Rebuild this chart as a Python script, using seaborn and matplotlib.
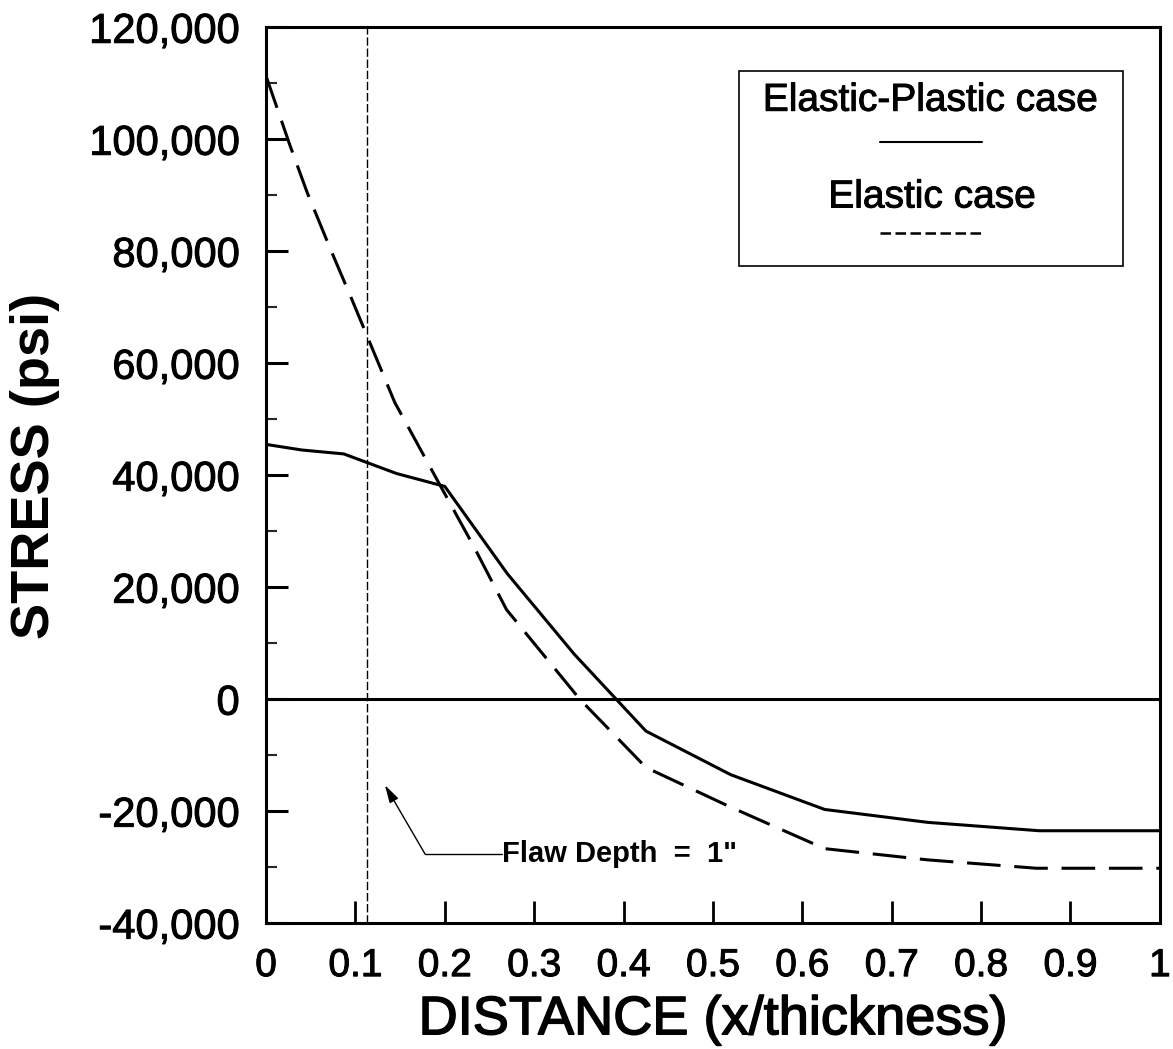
import numpy as np
import pandas as pd
import matplotlib
matplotlib.use("Agg")
import matplotlib.pyplot as plt
import matplotlib.patheffects as pe
from matplotlib.ticker import MultipleLocator, FuncFormatter, FixedLocator
from matplotlib.lines import Line2D
from matplotlib.patches import Rectangle
import seaborn as sns

# Through-wall stress distributions (x/thickness vs. stress in psi)
plastic_x = [0.0, 0.04, 0.087, 0.146, 0.2, 0.27, 0.345, 0.425, 0.52, 0.625, 0.74, 0.865, 1.0]
plastic_y = [45500, 44500, 43800, 40300, 38000, 22400, 8000, -5700, -13500, -19700, -22000, -23500, -23500]

elastic_x = [0.0, 0.027, 0.046, 0.072, 0.096, 0.144, 0.193, 0.232, 0.269, 0.351, 0.425, 0.52, 0.625, 0.74, 0.862, 1.0]
elastic_y = [111300, 98800, 90500, 80400, 71400, 53000, 38700, 27400, 16000, 0, -12200, -19300, -26700, -28700, -30200, -30200]

series_names = ["Elastic-Plastic case", "Elastic case"]
flaw_depth = 0.113
flaw_label = 'Flaw Depth  =  1"'

x_ticks = [0, 0.1, 0.2, 0.3, 0.4, 0.5, 0.6, 0.7, 0.8, 0.9, 1.0]
x_tick_labels = ["0", "0.1", "0.2", "0.3", "0.4", "0.5", "0.6", "0.7", "0.8", "0.9", "1"]

df = pd.concat([
    pd.DataFrame({"x": plastic_x, "stress": plastic_y, "case": series_names[0]}),
    pd.DataFrame({"x": elastic_x, "stress": elastic_y, "case": series_names[1]}),
], ignore_index=True)

sns.set_theme(style="white")
plt.rcParams["font.family"] = ["Liberation Sans", "DejaVu Sans"]

# slightly heavier glyph outlines for the regular-weight text
heavy = [pe.withStroke(linewidth=0.7, foreground="black")]

fig = plt.figure(figsize=(11.73, 10.49), dpi=100)
ax = fig.add_axes([0.2268, 0.120, 0.762, 0.854])

sns.lineplot(
    data=df, x="x", y="stress", hue="case", style="case",
    palette={series_names[0]: "black", series_names[1]: "black"},
    dashes={series_names[0]: "", series_names[1]: (11, 4.5)},
    linewidth=2.2, legend=False, sort=False, estimator=None, ax=ax,
)

# zero-stress reference and flaw depth marker
ax.axhline(0, color="black", lw=2.2, zorder=1)
ax.axvline(flaw_depth, color="black", lw=1.0, dashes=(6, 2), zorder=1)

ax.set_xlim(0, 1)
ax.set_ylim(-40000, 120000)

for s in ax.spines.values():
    s.set_visible(True)
    s.set_color("black")
    s.set_linewidth(2.2)

ax.yaxis.set_major_locator(MultipleLocator(20000))
ax.yaxis.set_minor_locator(MultipleLocator(10000))
ax.yaxis.set_major_formatter(FuncFormatter(lambda v, p: f"{int(round(v)):,}"))
ax.xaxis.set_major_locator(FixedLocator(x_ticks))
ax.set_xticklabels(x_tick_labels)

ax.tick_params(axis="y", which="major", direction="in", length=16, width=2.2,
               pad=19, labelsize=30, colors="black", left=True)
ax.tick_params(axis="y", which="minor", direction="in", length=8, width=1.5, left=True)
ax.tick_params(axis="x", which="major", direction="in", length=16, width=2.0,
               pad=18, labelsize=28, colors="black", bottom=True)
for lbl in ax.get_xticklabels() + ax.get_yticklabels():
    lbl.set_path_effects(heavy)

ax.set_xlabel("DISTANCE (x/thickness)", fontsize=39, color="black", labelpad=8,
              path_effects=[pe.withStroke(linewidth=1.1, foreground="black")])
ax.set_ylabel("")
fig.text(35 / 1173, 1 - 466 / 1049, "STRESS (psi)", rotation=90, fontsize=39,
         fontweight="bold", ha="center", va="center", color="black")

# legend box with captions over line samples
ax.add_patch(Rectangle((0.529, 0.734), 0.430, 0.217, transform=ax.transAxes,
                       fill=False, edgecolor="black", lw=1.2, zorder=5))
ax.text(0.743, 0.918, series_names[0], transform=ax.transAxes, fontsize=28,
        ha="center", va="center", color="black", zorder=6, path_effects=heavy)
ax.add_line(Line2D([0.687, 0.801], [0.872, 0.872], transform=ax.transAxes,
                   color="black", lw=1.5, zorder=6))
ax.text(0.745, 0.810, series_names[1], transform=ax.transAxes, fontsize=28,
        ha="center", va="center", color="black", zorder=6, path_effects=heavy)
ax.add_line(Line2D([0.687, 0.801], [0.770, 0.770], transform=ax.transAxes,
                   color="black", lw=1.8, dashes=(4.2, 1.8), zorder=6))

# flaw depth annotation
ax.plot([0.178, 0.264], [-27680, -27680], color="black", lw=1.0)
ax.annotate("", xy=(0.133, -15360), xytext=(0.178, -27680),
            arrowprops=dict(arrowstyle="-|>,head_length=0.9,head_width=0.25",
                            color="black", lw=1.0, shrinkA=0, shrinkB=0))
ax.text(0.264, -27680, flaw_label, fontsize=21, fontweight="bold",
        ha="left", va="center", color="black")

fig.savefig("out.png", dpi=100, facecolor="white")
